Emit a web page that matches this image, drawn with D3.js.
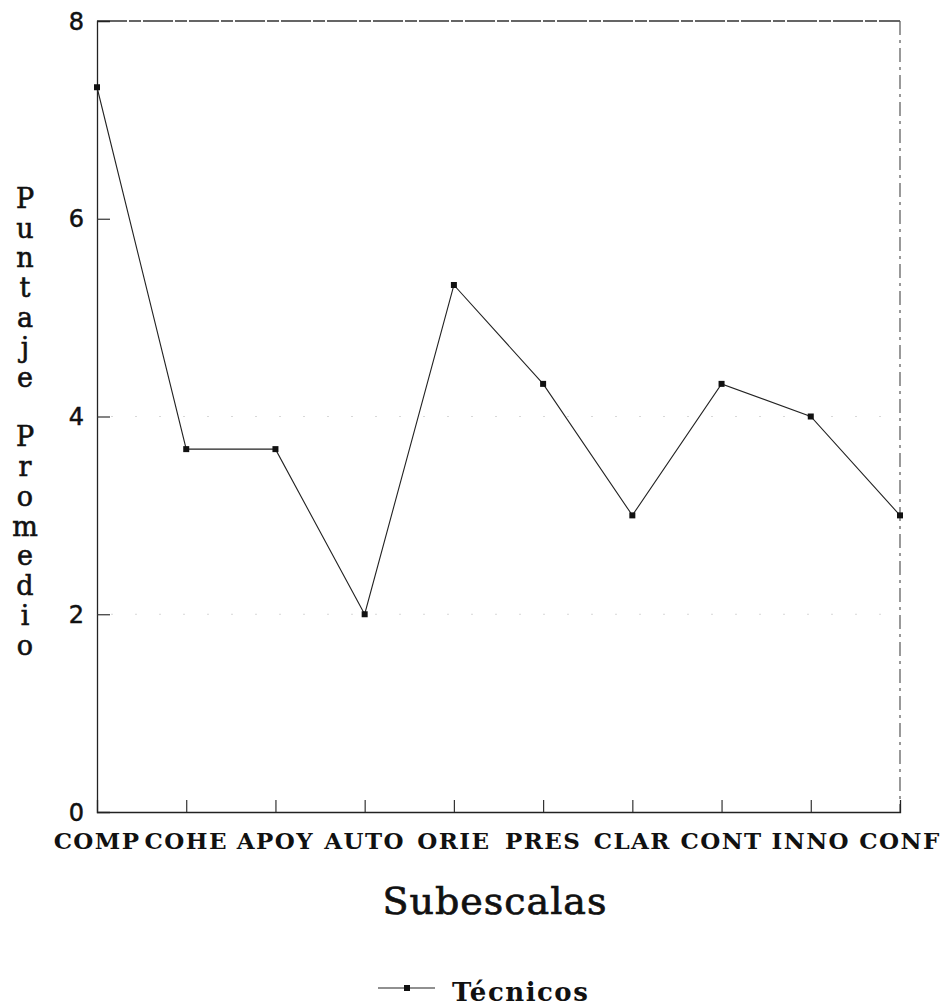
<!DOCTYPE html>
<html>
<head>
<meta charset="utf-8">
<script src="https://cdn.jsdelivr.net/npm/d3@7"></script>
<style>
  body { margin: 0; background: #fff; }
  svg { display: block; }
</style>
</head>
<body>
<svg id="chart" width="945" height="1008"></svg>
<script>
const subescalas = ["COMP", "COHE", "APOY", "AUTO", "ORIE", "PRES", "CLAR", "CONT", "INNO", "CONF"];
const tecnicos = [7.33, 3.67, 3.67, 2.0, 5.33, 4.33, 3.0, 4.33, 4.0, 3.0];
const yTicks = [0, 2, 4, 6, 8];
const gridTicks = [2, 4];
const yTitle = "Puntaje Promedio";
const xTitle = "Subescalas";
const seriesName = "Técnicos";

const svg = d3.select("#chart");
const plotL = 97, plotR = 900, plotT = 21, plotB = 812;

const x = d3.scalePoint().domain(subescalas).range([plotL, plotR]);
const y = d3.scaleLinear().domain([0, 8]).range([plotB, plotT]);

const slab = "'DejaVu Serif', serif";

// faint dotted gridlines
svg.append("g").selectAll("line").data(gridTicks).join("line")
    .attr("x1", plotL + 14).attr("x2", plotR - 4)
    .attr("y1", d => y(d)).attr("y2", d => y(d))
    .attr("stroke", "#d8d8d8").attr("stroke-width", 1).attr("stroke-dasharray", "2,22");

// frame: top + right dashed
svg.append("line").attr("x1", plotL).attr("x2", plotR).attr("y1", plotT).attr("y2", plotT)
    .attr("stroke", "#333").attr("stroke-width", 1.3).attr("stroke-dasharray", "30,2,12,2");
svg.append("line").attr("x1", plotR).attr("x2", plotR).attr("y1", plotT).attr("y2", plotB)
    .attr("stroke", "#555").attr("stroke-width", 1.2).attr("stroke-dasharray", "14,5,3,5");

// y axis
const yAxis = svg.append("g").attr("transform", `translate(${plotL},0)`)
    .call(d3.axisRight(y).tickValues(yTicks).tickSize(13).tickFormat(""));
yAxis.select(".domain").attr("stroke", "#222").attr("stroke-width", 1.3);
yAxis.selectAll(".tick line").attr("stroke", "#333").attr("stroke-width", 1.2)
    .filter(d => d === 0 || d === 8).remove();

svg.append("g").selectAll("text").data(yTicks).join("text")
    .attr("x", plotL - 13).attr("y", d => y(d)).attr("dy", "0.36em")
    .attr("text-anchor", "end")
    .style("font-family", "'DejaVu Sans', sans-serif").style("font-size", "24px")
    .attr("fill", "#111").attr("stroke", "#111").attr("stroke-width", 0.5)
    .text(d => d);

// x axis
const xAxis = svg.append("g").attr("transform", `translate(0,${plotB})`)
    .call(d3.axisTop(x).tickSize(12).tickFormat(""));
xAxis.select(".domain").attr("stroke", "#222").attr("stroke-width", 1.3);
xAxis.selectAll(".tick line").attr("stroke", "#333").attr("stroke-width", 1.2)
    .filter(d => d === subescalas[0] || d === subescalas[subescalas.length - 1]).remove();

svg.append("g").selectAll("text").data(subescalas).join("text")
    .attr("x", d => x(d)).attr("y", 841).attr("dy", "0.36em")
    .attr("text-anchor", "middle")
    .style("font-family", slab).style("font-size", "23px").style("font-weight", "bold")
    .style("letter-spacing", "1.4px")
    .attr("fill", "#111")
    .text(d => d);

// axis titles
svg.append("text").attr("x", 495).attr("y", 900).attr("dy", "0.36em")
    .attr("text-anchor", "middle")
    .style("font-family", slab).style("font-size", "38px").style("letter-spacing", "1px")
    .attr("fill", "#111").attr("stroke", "#111").attr("stroke-width", 0.7)
    .text(xTitle);

const letters = yTitle.split("");
svg.append("g").selectAll("text").data(letters).join("text")
    .attr("x", 25).attr("y", (d, i) => 198 + i * 29.8).attr("dy", "0.36em")
    .attr("text-anchor", "middle")
    .style("font-family", slab).style("font-size", "27px")
    .attr("fill", "#111").attr("stroke", "#111").attr("stroke-width", 0.6)
    .text(d => d);

// series line + markers
const line = d3.line().x((d, i) => x(subescalas[i])).y(d => y(d));
svg.append("path").datum(tecnicos).attr("d", line)
    .attr("fill", "none").attr("stroke", "#222").attr("stroke-width", 1.1);
svg.append("g").selectAll("rect").data(tecnicos).join("rect")
    .attr("x", (d, i) => x(subescalas[i]) - 3).attr("y", d => y(d) - 3)
    .attr("width", 6).attr("height", 6).attr("fill", "#111");

// legend
const lg = svg.append("g").attr("transform", "translate(378,988)");
lg.append("line").attr("x1", 0).attr("x2", 57).attr("stroke", "#222").attr("stroke-width", 1.2);
lg.append("rect").attr("x", 26).attr("y", -3).attr("width", 6).attr("height", 6).attr("fill", "#111");
lg.append("text").attr("x", 74).attr("y", 4).attr("dy", "0.36em")
    .style("font-family", slab).style("font-size", "26px").style("font-weight", "bold")
    .style("letter-spacing", "1.5px")
    .attr("fill", "#111").text(seriesName);
</script>
</body>
</html>
